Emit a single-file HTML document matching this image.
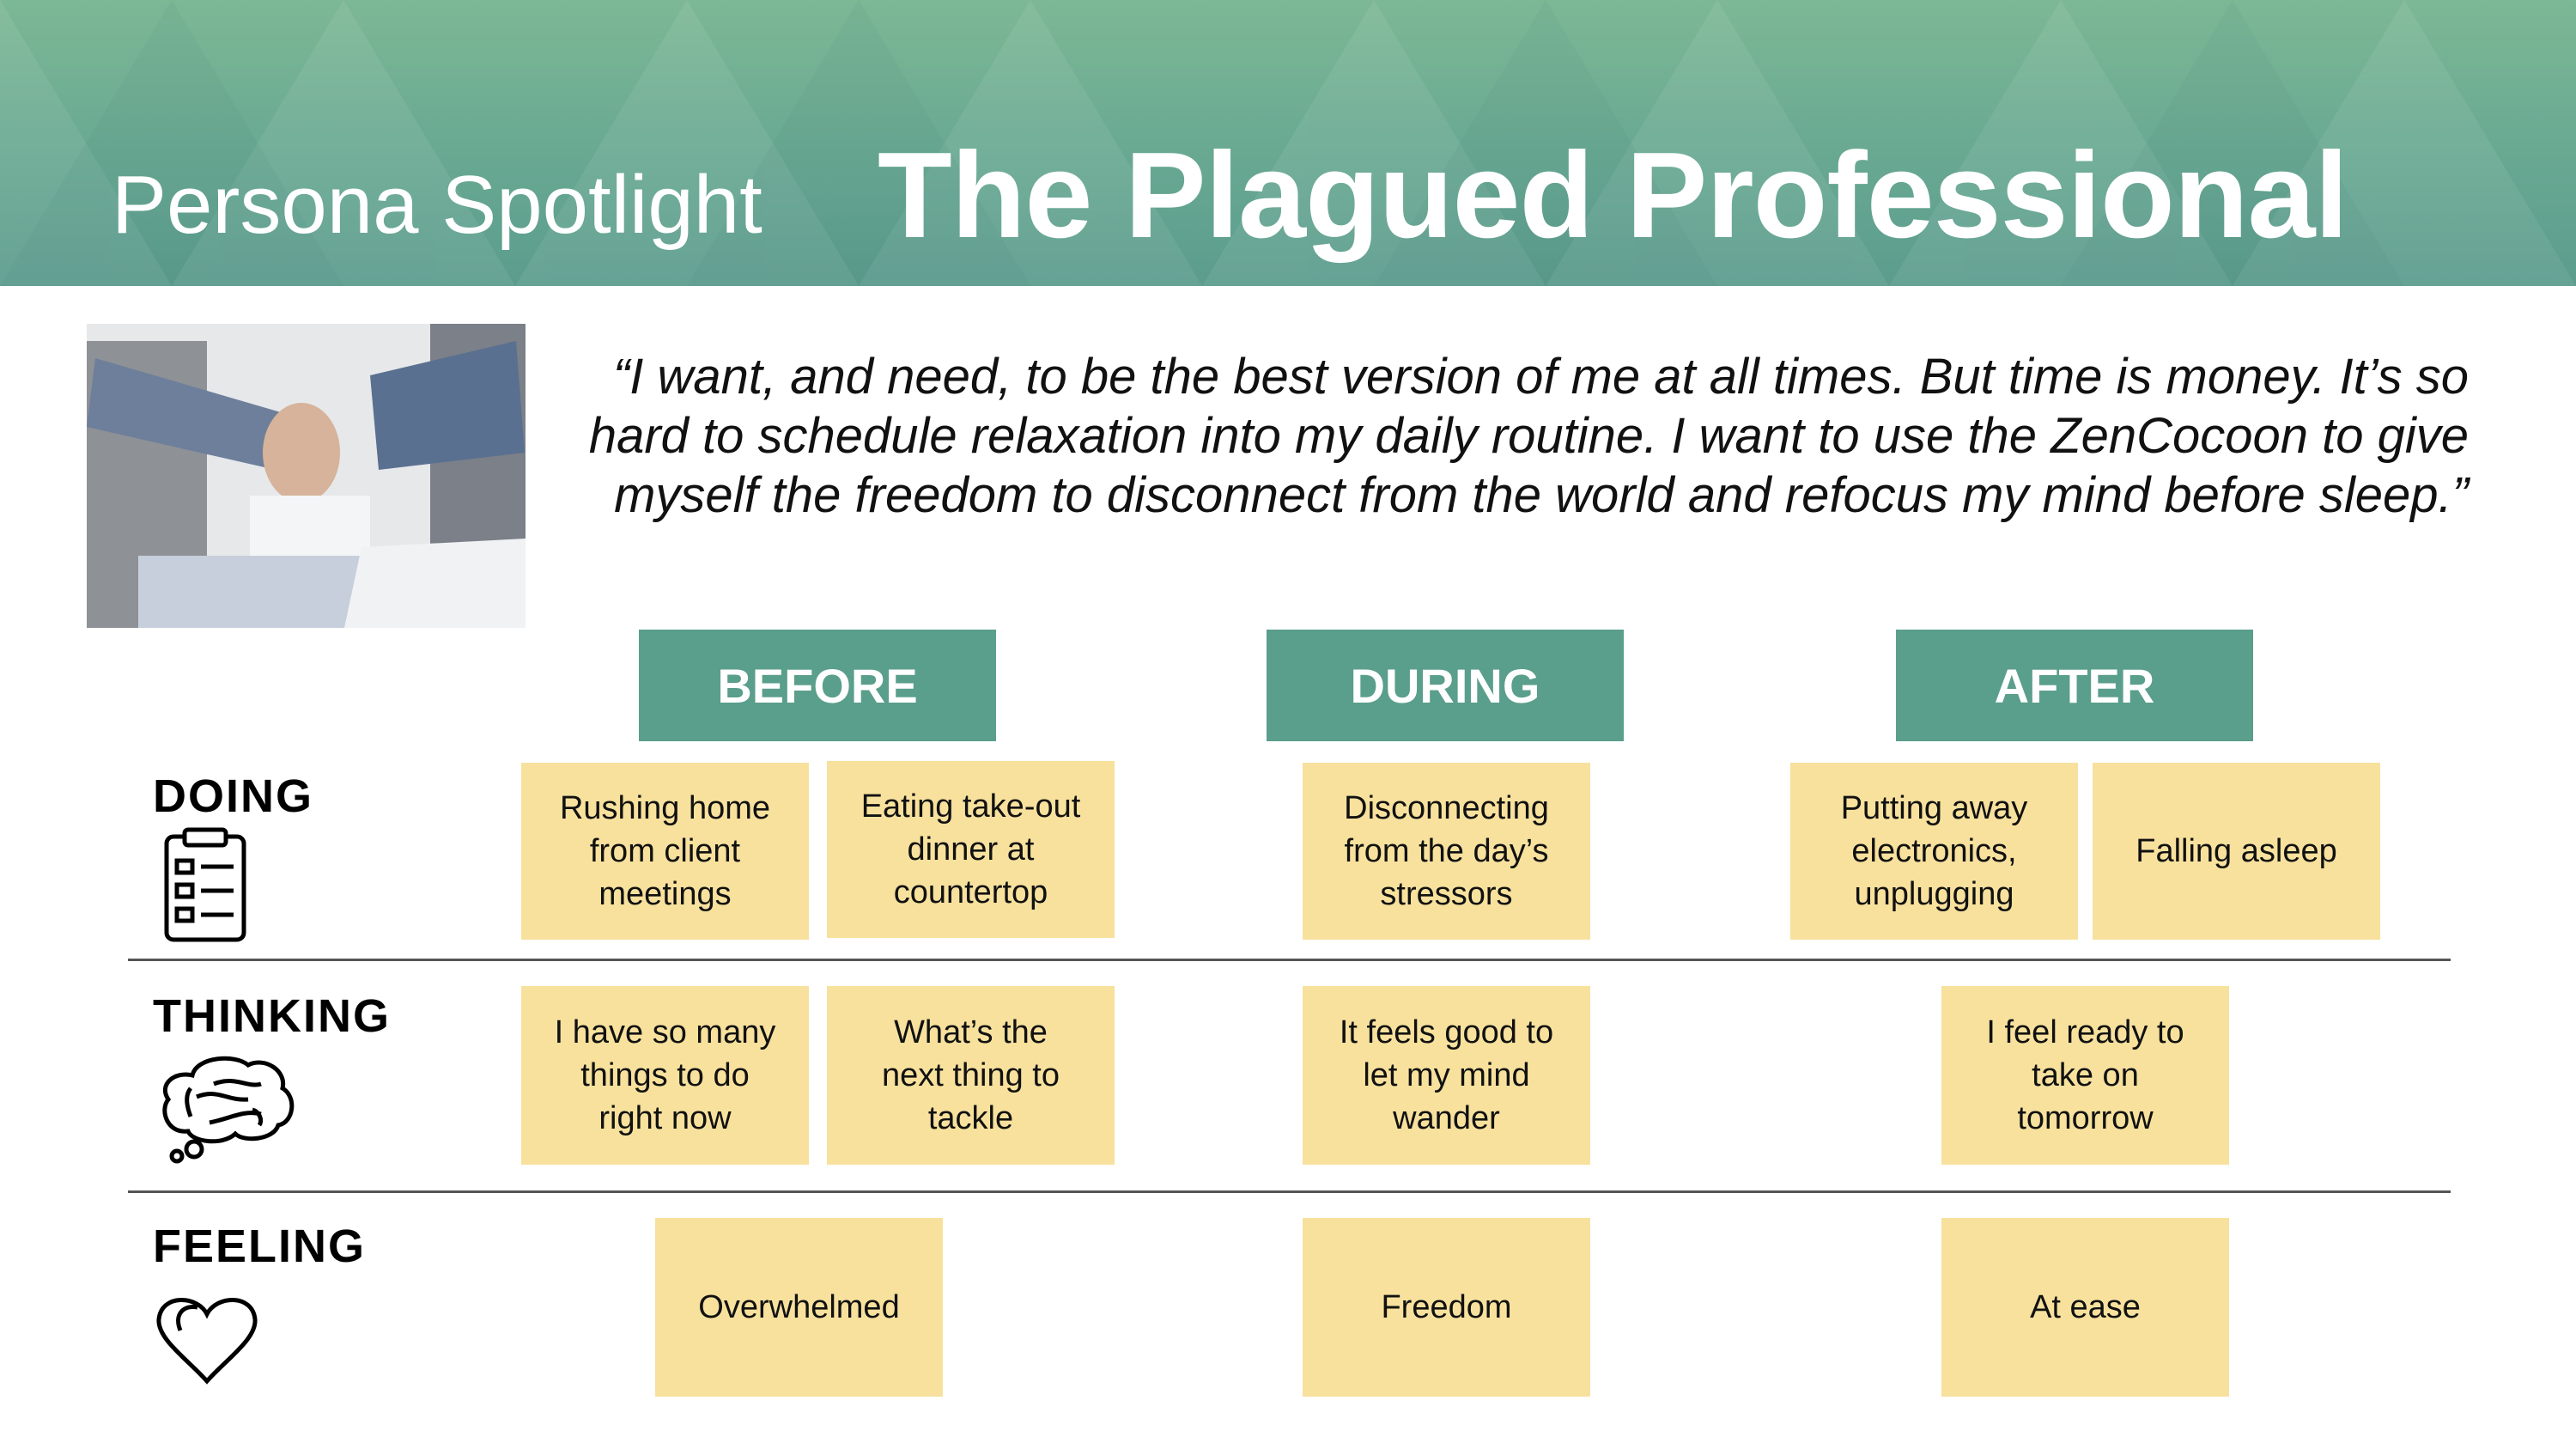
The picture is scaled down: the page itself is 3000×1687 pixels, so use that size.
<!DOCTYPE html>
<html><head><meta charset="utf-8"><style>
*{margin:0;padding:0;box-sizing:border-box}
body{width:3000px;height:1687px;position:relative;background:#fff;font-family:"Liberation Sans",sans-serif;overflow:hidden}
.abs{position:absolute}
.header{left:0;top:0;width:3000px;height:333px;background:linear-gradient(180deg,#7db895 0%,#6aaa93 50%,#5b9c8d 100%);overflow:hidden}
.phase{background:#5a9e8c;color:#fff;font-weight:bold;font-size:56px;display:flex;align-items:center;justify-content:center;height:130px;width:416px;top:733px}
.note{background:#f7e19d;font-size:38px;line-height:50px;color:#111;display:flex;align-items:center;justify-content:center;text-align:center;width:335px}
.lbl{font-weight:bold;font-size:54px;color:#000;left:178px;letter-spacing:2px}
.rule{height:3px;background:#555;left:149px;width:2705px}
</style></head><body>
<div class="abs header">
<svg width="3000" height="333" style="position:absolute;left:0;top:0">
<g fill="#ffffff" opacity="0.07">
<polygon points="0,0 200,333 -200,333"/><polygon points="400,0 600,333 200,333"/><polygon points="800,0 1000,333 600,333"/><polygon points="1200,0 1400,333 1000,333"/><polygon points="1600,0 1800,333 1400,333"/><polygon points="2000,0 2200,333 1800,333"/><polygon points="2400,0 2600,333 2200,333"/><polygon points="2800,0 3000,333 2600,333"/>
</g>
<g fill="#2d6e60" opacity="0.06">
<polygon points="200,0 400,333 0,333"/><polygon points="1000,0 1200,333 800,333"/><polygon points="1800,0 2000,333 1600,333"/><polygon points="2600,0 2800,333 2400,333"/>
</g></svg>
<div class="abs" style="left:130px;top:184px;font-size:96px;color:#fff;line-height:110px">Persona Spotlight</div>
<div class="abs" style="left:1022px;top:148px;font-size:142px;font-weight:bold;color:#fff;line-height:160px;letter-spacing:-1px">The Plagued Professional</div>
</div>
<div class="abs" style="left:101px;top:377px;width:511px;height:354px;overflow:hidden">
<svg width="511" height="354"><rect x="0" y="0" width="511" height="354" fill="#e6e8ea"/>
<rect x="0" y="20" width="140" height="334" fill="#8e9196"/><rect x="400" y="0" width="111" height="354" fill="#7b8089"/>
<polygon points="10,40 250,110 220,170 0,120" fill="#6d7f9a"/><polygon points="330,60 500,20 510,150 340,170" fill="#5a7090"/>
<ellipse cx="250" cy="150" rx="45" ry="58" fill="#d6b39a"/><rect x="190" y="200" width="140" height="154" fill="#f4f5f7"/>
<rect x="60" y="270" width="280" height="84" fill="#c7cfdc"/><polygon points="320,260 511,250 511,354 300,354" fill="#f1f2f4"/></svg></div>
<div class="abs" style="left:640px;top:404px;width:2235px;text-align:right;font-style:italic;font-size:58px;line-height:69px;color:#111;white-space:nowrap">“I want, and need, to be the best version of me at all times. But time is money. It’s so<br>hard to schedule relaxation into my daily routine. I want to use the ZenCocoon to give<br>myself the freedom to disconnect from the world and refocus my mind before sleep.”</div>
<div class="abs phase" style="left:744px">BEFORE</div>
<div class="abs phase" style="left:1475px">DURING</div>
<div class="abs phase" style="left:2208px">AFTER</div>
<div class="abs lbl" style="top:896px">DOING</div>
<div class="abs lbl" style="top:1152px">THINKING</div>
<div class="abs lbl" style="top:1420px">FEELING</div>
<svg class="abs" style="left:190px;top:962px" width="100" height="136" fill="none" stroke="#000" stroke-width="5">
<rect x="4" y="12" width="90" height="120" rx="8"/><rect x="25" y="4" width="48" height="18" rx="4" fill="#fff"/>
<rect x="16" y="40" width="18" height="14"/><rect x="16" y="68" width="18" height="14"/><rect x="16" y="96" width="18" height="14"/>
<line x1="44" y1="47" x2="82" y2="47"/><line x1="44" y1="75" x2="82" y2="75"/><line x1="44" y1="103" x2="82" y2="103"/></svg>
<svg class="abs" style="left:184px;top:1222px" width="164" height="134" fill="none" stroke="#000" stroke-width="5">
<path d="M40,30 C45,8 90,5 105,18 C125,8 150,25 145,45 C162,55 158,85 140,88 C135,105 100,108 90,98 C75,112 40,108 35,95 C10,98 2,70 12,58 C0,40 20,25 40,30 Z"/>
<path d="M38,45 C30,55 35,70 38,78"/><path d="M45,55 C70,45 80,60 105,58"/><path d="M65,40 C90,30 105,45 120,40"/><path d="M60,85 C85,80 100,70 120,75"/><path d="M110,70 C118,72 122,82 118,88"/>
<circle cx="22" cy="124" r="6"/><circle cx="42" cy="116" r="9"/></svg>
<svg class="abs" style="left:180px;top:1504px" width="122" height="110" fill="none" stroke="#000" stroke-width="5">
<path d="M61,26 C50,4 8,2 5,32 C3,55 40,80 61,104 C82,80 119,55 117,32 C114,2 72,4 61,26 Z"/><path d="M30,45 C22,25 35,15 50,18"/></svg>
<div class="abs rule" style="top:1116px"></div>
<div class="abs rule" style="top:1386px"></div>
<div class="abs note" style="left:607px;top:888px;height:206px">Rushing home<br>from client<br>meetings</div>
<div class="abs note" style="left:963px;top:886px;height:206px">Eating take-out<br>dinner at<br>countertop</div>
<div class="abs note" style="left:1517px;top:888px;height:206px">Disconnecting<br>from the day’s<br>stressors</div>
<div class="abs note" style="left:2085px;top:888px;height:206px">Putting away<br>electronics,<br>unplugging</div>
<div class="abs note" style="left:2437px;top:888px;height:206px">Falling asleep</div>
<div class="abs note" style="left:607px;top:1148px;height:208px">I have so many<br>things to do<br>right now</div>
<div class="abs note" style="left:963px;top:1148px;height:208px">What’s the<br>next thing to<br>tackle</div>
<div class="abs note" style="left:1517px;top:1148px;height:208px">It feels good to<br>let my mind<br>wander</div>
<div class="abs note" style="left:2261px;top:1148px;height:208px">I feel ready to<br>take on<br>tomorrow</div>
<div class="abs note" style="left:763px;top:1418px;height:208px">Overwhelmed</div>
<div class="abs note" style="left:1517px;top:1418px;height:208px">Freedom</div>
<div class="abs note" style="left:2261px;top:1418px;height:208px">At ease</div>
</body></html>
